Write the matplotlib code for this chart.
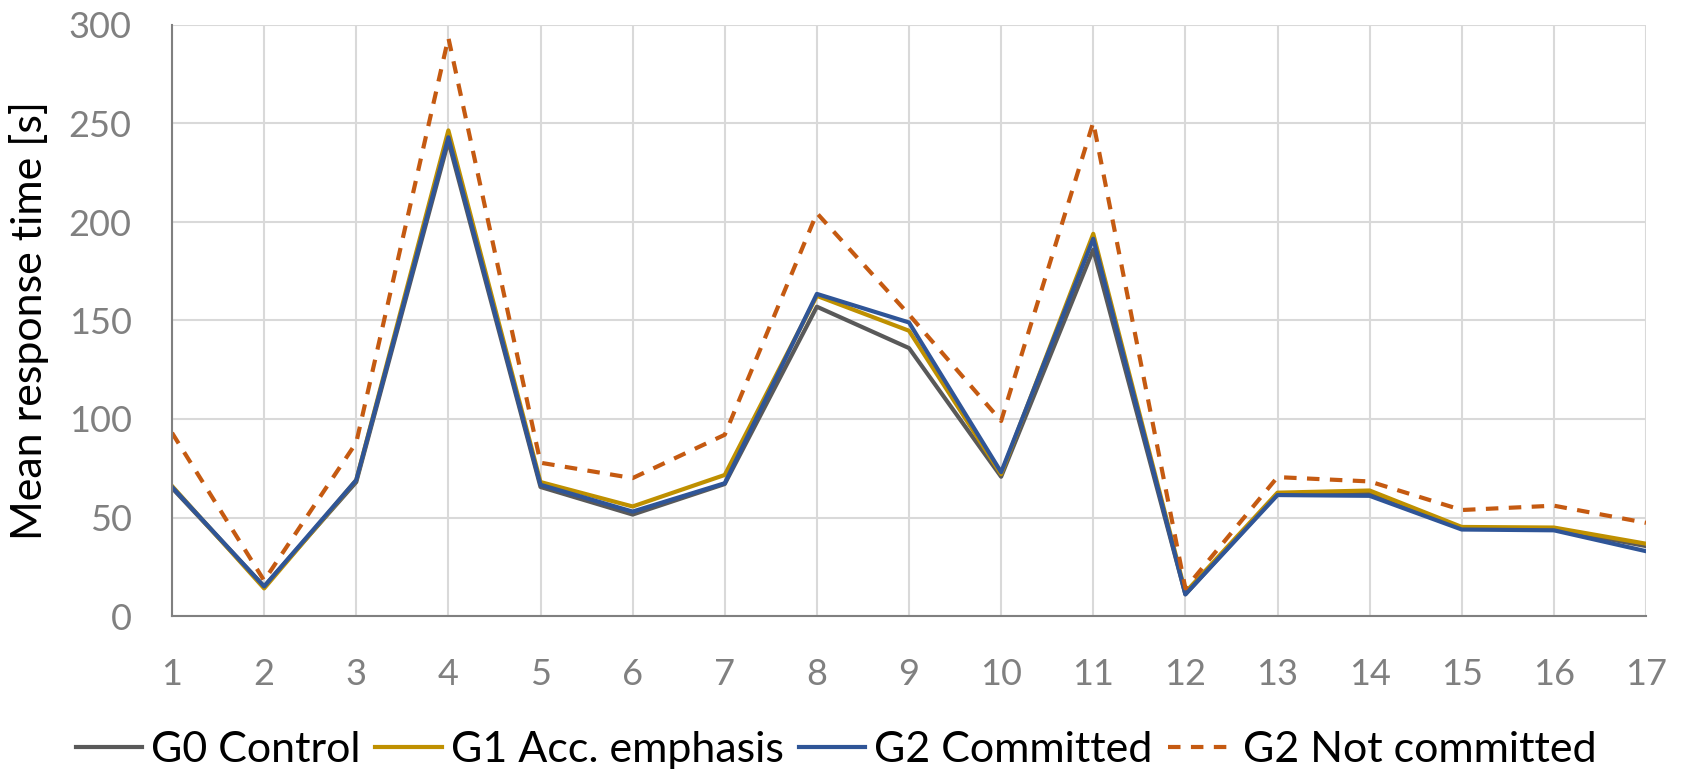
import matplotlib
matplotlib.use('Agg')
import matplotlib.pyplot as plt

# Item number on the x axis
items = list(range(1, 18))

# Mean response time per item [s]
g0_control = [65, 15, 68, 241, 65.5, 51.5, 67, 157, 136, 70.7, 186, 11, 62, 62.3, 44.5, 44.2, 35.5]
g1_acc_emphasis = [66, 14, 69, 246.5, 68, 55.6, 71.6, 162.5, 144.8, 72, 194, 12, 62.6, 63.7, 45.2, 44.9, 36.7]
g2_committed = [65.5, 15, 69, 243, 66.6, 53, 67.4, 163.5, 149, 73, 191.5, 11, 61.4, 61, 43.9, 43.5, 32.9]
g2_not_committed = [93, 18, 88, 293.5, 77.8, 70, 92, 204.5, 153, 99, 250.6, 14, 70.5, 68.3, 53.8, 56, 47.3]

plt.rcParams['font.family'] = ['Lato', 'DejaVu Sans']

W, H = 1682, 771
fig = plt.figure(figsize=(W / 100, H / 100), dpi=100)
ax = fig.add_axes([172 / W, 1 - 616 / H, (1646 - 172) / W, (616 - 25) / H])

lw = 3.0
ax.plot(items, g0_control, color='#595959', lw=lw, label='G0 Control')
ax.plot(items, g1_acc_emphasis, color='#BF9000', lw=lw, label='G1 Acc. emphasis')
ax.plot(items, g2_committed, color='#2F5597', lw=lw, label='G2 Committed')
ax.plot(items, g2_not_committed, color='#C55A11', lw=lw, ls=(0, (3, 2.5)), label='G2 Not committed')

ax.set_xlim(1, 17)
ax.set_ylim(0, 300)
ax.set_xticks(items)
ax.set_yticks(range(0, 301, 50))
ax.grid(True, color='#d9d9d9', lw=1.5)
ax.set_axisbelow(True)
for s in ['top', 'right']:
    ax.spines[s].set_visible(False)
for s in ['left', 'bottom']:
    ax.spines[s].set_color('#808080')
    ax.spines[s].set_linewidth(1.5)
ax.tick_params(length=0, labelsize=26, labelcolor='#808080')
ax.tick_params(axis='y', pad=29)
ax.tick_params(axis='x', pad=30)
ax.set_ylabel('Mean response time [s]', fontsize=31, color='black', labelpad=14)

fig.legend(*ax.get_legend_handles_labels(), loc='center',
           bbox_to_anchor=(836 / W, 1 - 750 / H), ncol=4, frameon=False,
           fontsize=31, handlelength=1.55, handletextpad=0.2, columnspacing=0.35,
           borderaxespad=0, borderpad=0, labelcolor='black')

plt.savefig('out.png', dpi=100)
plt.close()
